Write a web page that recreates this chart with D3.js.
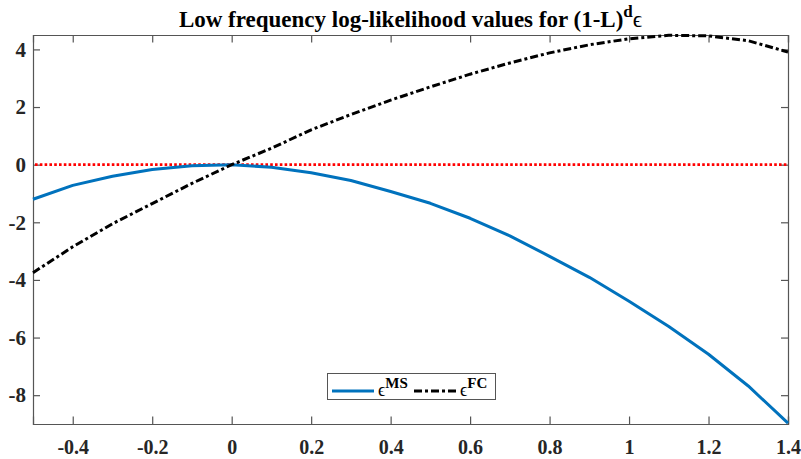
<!DOCTYPE html>
<html>
<head>
<meta charset="utf-8">
<script src="https://cdn.jsdelivr.net/npm/d3@7"></script>
<style>
  body { margin: 0; background: #fff; }
  text { font-family: "Liberation Serif", "Times New Roman", serif; }
</style>
</head>
<body>
<svg id="chart" width="801" height="459"></svg>
<script>
// values
const dValues = [-0.5, -0.4, -0.3, -0.2, -0.1, 0, 0.1, 0.2, 0.3, 0.4, 0.5, 0.6, 0.7, 0.8, 0.9, 1.0, 1.1, 1.2, 1.3, 1.4];
const msValues = [-1.2, -0.72, -0.4, -0.17, -0.04, 0, -0.09, -0.28, -0.55, -0.93, -1.34, -1.86, -2.47, -3.18, -3.91, -4.74, -5.62, -6.58, -7.68, -8.97];
const fcValues = [-3.75, -2.85, -2.05, -1.35, -0.65, 0, 0.57, 1.21, 1.74, 2.24, 2.7, 3.14, 3.53, 3.88, 4.16, 4.37, 4.49, 4.47, 4.3, 3.91];
const xTicks = [-0.4, -0.2, 0, 0.2, 0.4, 0.6, 0.8, 1, 1.2, 1.4];
const yTicks = [-8, -6, -4, -2, 0, 2, 4];

const svg = d3.select('#chart');
const plotLeft = 33, plotRight = 788, plotTop = 35, plotBottom = 424;
const axisColor = '#555';
const labelColor = '#262626';

const x = d3.scaleLinear().domain([-0.5, 1.4]).range([plotLeft, plotRight]);
const y = d3.scaleLinear().domain([-9, 4.5]).range([plotBottom, plotTop]);

// axes with ticks on all four sides (box on)
function drawAxes() {
  const g = svg.append('g');

  const xb = g.append('g')
    .attr('transform', `translate(0,${plotBottom})`)
    .call(d3.axisBottom(x).tickValues(xTicks).tickSize(-7.5).tickPadding(16).tickFormat(d => d));
  xb.selectAll('.tick text').style('font-size', '20px');
  g.append('g')
    .attr('transform', `translate(0,${plotTop})`)
    .call(d3.axisTop(x).tickValues(xTicks).tickSize(-7.5).tickFormat(''));
  const yl = g.append('g')
    .attr('transform', `translate(${plotLeft},0)`)
    .call(d3.axisLeft(y).tickValues(yTicks).tickSize(-7).tickPadding(7).tickFormat(d => d));
  yl.selectAll('.tick text').style('font-size', '21px');
  g.append('g')
    .attr('transform', `translate(${plotRight},0)`)
    .call(d3.axisRight(y).tickValues(yTicks).tickSize(-7).tickFormat(''));

  g.selectAll('.domain').attr('stroke', axisColor).attr('stroke-width', 1.2);
  g.selectAll('.tick line').attr('stroke', axisColor).attr('stroke-width', 1.2);
  g.selectAll('.tick text')
    .attr('fill', labelColor)
    .style('font-weight', 'bold');
}

drawAxes();

// zero reference line
svg.append('line')
  .attr('x1', x(-0.5) + 2)
  .attr('x2', x(1.4))
  .attr('y1', y(0))
  .attr('y2', y(0))
  .attr('stroke', '#ff0000')
  .attr('stroke-width', 2.6)
  .attr('stroke-dasharray', '2.6,2.2');

const line = d3.line()
  .x((d, i) => x(dValues[i]))
  .y(d => y(d));

svg.append('path')
  .datum(msValues)
  .attr('d', line)
  .attr('fill', 'none')
  .attr('stroke', '#0072BD')
  .attr('stroke-width', 3)
  .attr('stroke-linejoin', 'round');

svg.append('path')
  .datum(fcValues)
  .attr('d', line)
  .attr('fill', 'none')
  .attr('stroke', '#000')
  .attr('stroke-width', 3)
  .attr('stroke-dasharray', '8,3,3,3');

// title
const title = svg.append('text')
  .attr('x', (plotLeft + plotRight) / 2)
  .attr('y', 27)
  .attr('text-anchor', 'middle')
  .attr('fill', '#000')
  .style('font-size', '23px')
  .style('font-weight', 'bold');
title.append('tspan').text('Low frequency log-likelihood values for (1-L)');
title.append('tspan').attr('dy', -10).style('font-size', '17px').text('d');
title.append('tspan').attr('dy', 10).style('font-weight', 'normal').text('ϵ');

// legend
const legend = svg.append('g');
legend.append('rect')
  .attr('x', 327.5)
  .attr('y', 373.5)
  .attr('width', 168)
  .attr('height', 26)
  .attr('fill', '#fff')
  .attr('stroke', axisColor)
  .attr('stroke-width', 1);

function legendItem(x0, color, dash, sup) {
  legend.append('line')
    .attr('x1', x0)
    .attr('x2', x0 + 42)
    .attr('y1', 391)
    .attr('y2', 391)
    .attr('stroke', color)
    .attr('stroke-width', 3)
    .attr('stroke-dasharray', dash);
  const t = legend.append('text')
    .attr('x', x0 + 46)
    .attr('y', 396)
    .attr('fill', '#000')
    .style('font-size', '18px');
  t.append('tspan').text('ϵ');
  t.append('tspan')
    .attr('dy', -8)
    .style('font-size', '15px')
    .style('font-weight', 'bold')
    .text(sup);
}

legendItem(332, '#0072BD', null, 'MS');
legendItem(414, '#000', '8,3,3,3', 'FC');
</script>
</body>
</html>
